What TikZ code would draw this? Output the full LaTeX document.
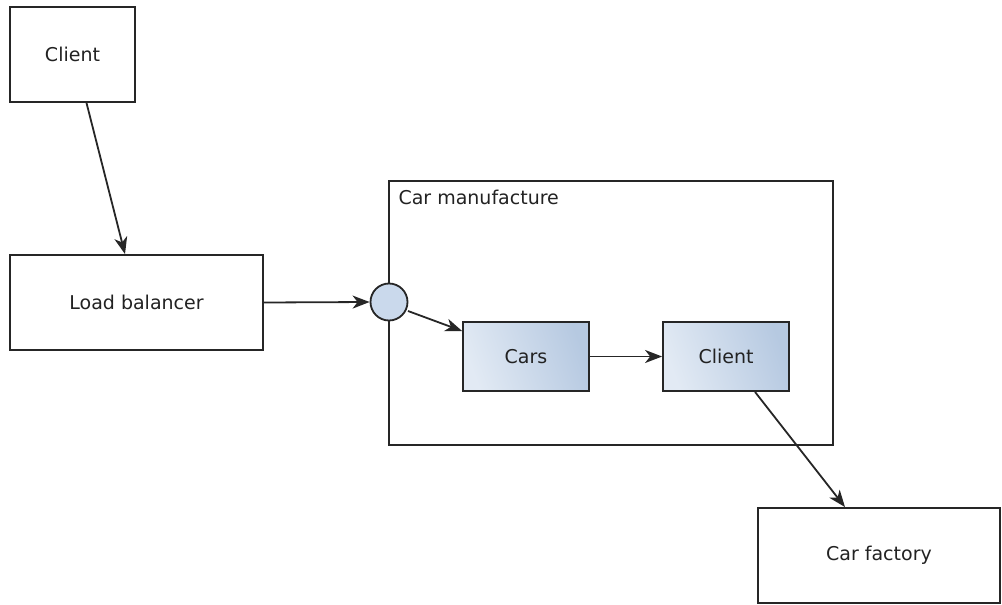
\documentclass[tikz,border=0pt]{standalone}
\usepackage{fontspec}
\setmainfont{DejaVu Sans}
\usetikzlibrary{arrows.meta}
\definecolor{boxlight}{HTML}{E2EAF4}
\definecolor{boxdark}{HTML}{B6C9E1}
\definecolor{portfill}{HTML}{CAD9EC}
\definecolor{textgray}{HTML}{222222}
\begin{document}
\begin{tikzpicture}[x=1pt,y=-1pt,
  every node/.style={font=\fontsize{19}{22}\selectfont, text=textgray},
  plainbox/.style={draw=black!85, line width=1.8pt, fill=white, inner sep=0pt},
  compbox/.style={draw=black!85, line width=1.8pt, inner sep=0pt,
    shading=axis, left color=boxlight, right color=boxdark, shading angle=110},
  link/.style={draw=black!85, line width=1.8pt, -{Stealth[length=17pt,width=13pt,inset=5pt]}}]
  \useasboundingbox (0,0) rectangle (1002,605);

  % external boxes
  \node[plainbox, minimum width=125pt, minimum height=95pt] (client) at (72.5,54.5) {Client};
  \node[plainbox, minimum width=253pt, minimum height=95pt] (lb) at (136.5,302.5) {Load balancer};
  \node[plainbox, minimum width=242pt, minimum height=95pt] (factory) at (879,555.5) {Car factory};

  % container
  \draw[black!85, line width=1.8pt] (389,181) rectangle (833,445);
  \node[anchor=north west] (cmlabel) at (395,187) {Car manufacture};

  % port on the container border
  \node[circle, draw=black!85, line width=1.8pt, fill=portfill, minimum size=37pt, inner sep=0pt] (port) at (389,302) {};

  % inner components
  \node[compbox, minimum width=126pt, minimum height=69pt] (cars) at (526,356.5) {Cars};
  \node[compbox, minimum width=126pt, minimum height=69pt] (inner) at (726,356.5) {Client};

  % connectors
  \draw[link] (client.south) ++(14,0) coordinate (cs) -- (lb.north -| 125,0);
  \draw[link] (lb.east) -- (port.west);
  \draw[link] (port) ++(19,9) coordinate (ps) -- (cars.north west |- 0,331) ;
  \draw[link] (cars.east) -- (inner.west);
  \draw[link] (inner.south) ++(29,0) coordinate (is) -- (factory.north -| 845,0);
\end{tikzpicture}
\end{document}
